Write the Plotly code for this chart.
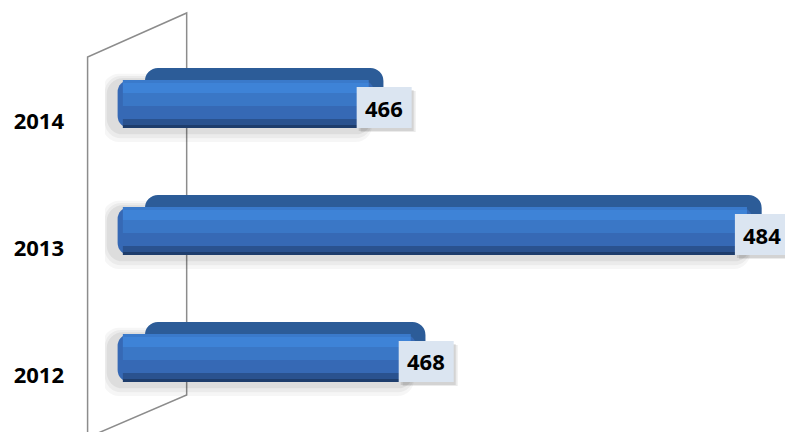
import plotly.graph_objects as go

# data
years = ["2012", "2013", "2014"]
values = [468, 484, 466]
value_labels = ["468", "484", "466"]

W, H = 785, 432
X_MIN, X_MAX = 453.5, 485.86
BASE = 454.1
PLOT_LEFT = 105.4  # px, where the x axis starts
PLOT_W = W - PLOT_LEFT
PX_Y = 1 / 127.0   # one pixel in category units


def px(x, y):
    """pixel -> paper coords, only used for the decorative side wall."""
    return (x - PLOT_LEFT) / PLOT_W, 1 - y / H


def bar(dx_end, base_shift, off, width, color, radius):
    return go.Bar(
        y=years, x=[v - BASE - base_shift + dx_end for v in values],
        base=BASE + base_shift, orientation="h", offset=off, width=width,
        marker=dict(color=color, cornerradius=radius, line_width=0),
        hoverinfo="skip",
    )


fig = go.Figure()

# front face: 48 px tall, bottom 7 px under the category centre
F_OFF, F_W = -7 * PX_Y, 48 * PX_Y

# blurred shadow, a few soft layers
for grow, alpha in [(0.10, 0.035), (0.07, 0.045), (0.04, 0.06)]:
    fig.add_trace(bar(0.2, -0.4 - grow * 3, F_OFF - grow - 0.01,
                      F_W + grow * 1.6, f"rgba(0,0,0,{alpha})", 16))

# top face (depth)
fig.add_trace(bar(0.75, 1.3, F_OFF + 12 * PX_Y, F_W, "#2c5c98", 13))
# front face, then bands to fake the vertical gradient
fig.add_trace(bar(0.3, 0, F_OFF, F_W, "#3669b5", 12))
bands = [  # (from px, to px, colour), measured from the face bottom
    (0, 3, "#1e3d6c"),
    (3, 9, "#2a528f"),
    (22, 35, "#3a77c6"),
    (35, 45, "#3e83d7"),
    (45, 48, "#3a7acb"),
]
for lo, hi, c in bands:
    fig.add_trace(bar(0.05, 0.25, F_OFF + lo * PX_Y, (hi - lo) * PX_Y, c, 0))

# value labels: shadow + light box as pixel-sized shapes anchored on the value
for i, (v, t) in enumerate(zip(values, value_labels)):
    for dx, dy, alpha in [(4, -4, 0.08), (2, -3, 0.10)]:
        fig.add_shape(type="rect", xref="x", yref="y", xsizemode="pixel",
                      ysizemode="pixel", xanchor=v, yanchor=i,
                      x0=-11 + dx, x1=44 + dx, y0=-7 + dy, y1=34 + dy,
                      fillcolor=f"rgba(0,0,0,{alpha})", line_width=0,
                      layer="above")
    fig.add_shape(type="rect", xref="x", yref="y", xsizemode="pixel",
                  ysizemode="pixel", xanchor=v, yanchor=i,
                  x0=-11, x1=44, y0=-7, y1=34,
                  fillcolor="#dbe5f1", line_width=0, layer="above")
    fig.add_annotation(x=v, y=i, xref="x", yref="y", xanchor="center",
                       yanchor="middle", showarrow=False,
                       text=f"<b>{t}</b>", xshift=16.5, yshift=13.5,
                       font=dict(family="Open Sans, Arial", size=22,
                                 color="black"))

# side wall of the 3D frame
pts = [px(88, 440), px(88, 57), px(187, 13), px(187, 395), px(80, 441)]
path = "M " + " L ".join(f"{a:.4f},{b:.4f}" for a, b in pts)
fig.add_shape(type="path", path=path, xref="paper", yref="paper",
              line=dict(color="#8c8c8c", width=1.5), layer="below")

fig.update_layout(
    width=W, height=H,
    margin=dict(l=PLOT_LEFT, r=0, t=0, b=0),
    barmode="overlay",
    showlegend=False,
    paper_bgcolor="white",
    plot_bgcolor="rgba(0,0,0,0)",
    xaxis=dict(range=[X_MIN, X_MAX], visible=False),
    yaxis=dict(type="category", categoryarray=years,
               range=[-0.449, 2.953], showgrid=False, zeroline=False,
               showline=False, ticks="", ticklabelstandoff=40,
               tickfont=dict(family="Open Sans, Arial", size=22,
                             color="black", weight="bold")),
)

fig.write_html("out.html", config={"displayModeBar": False},
               post_script="document.body.style.margin='0';")
